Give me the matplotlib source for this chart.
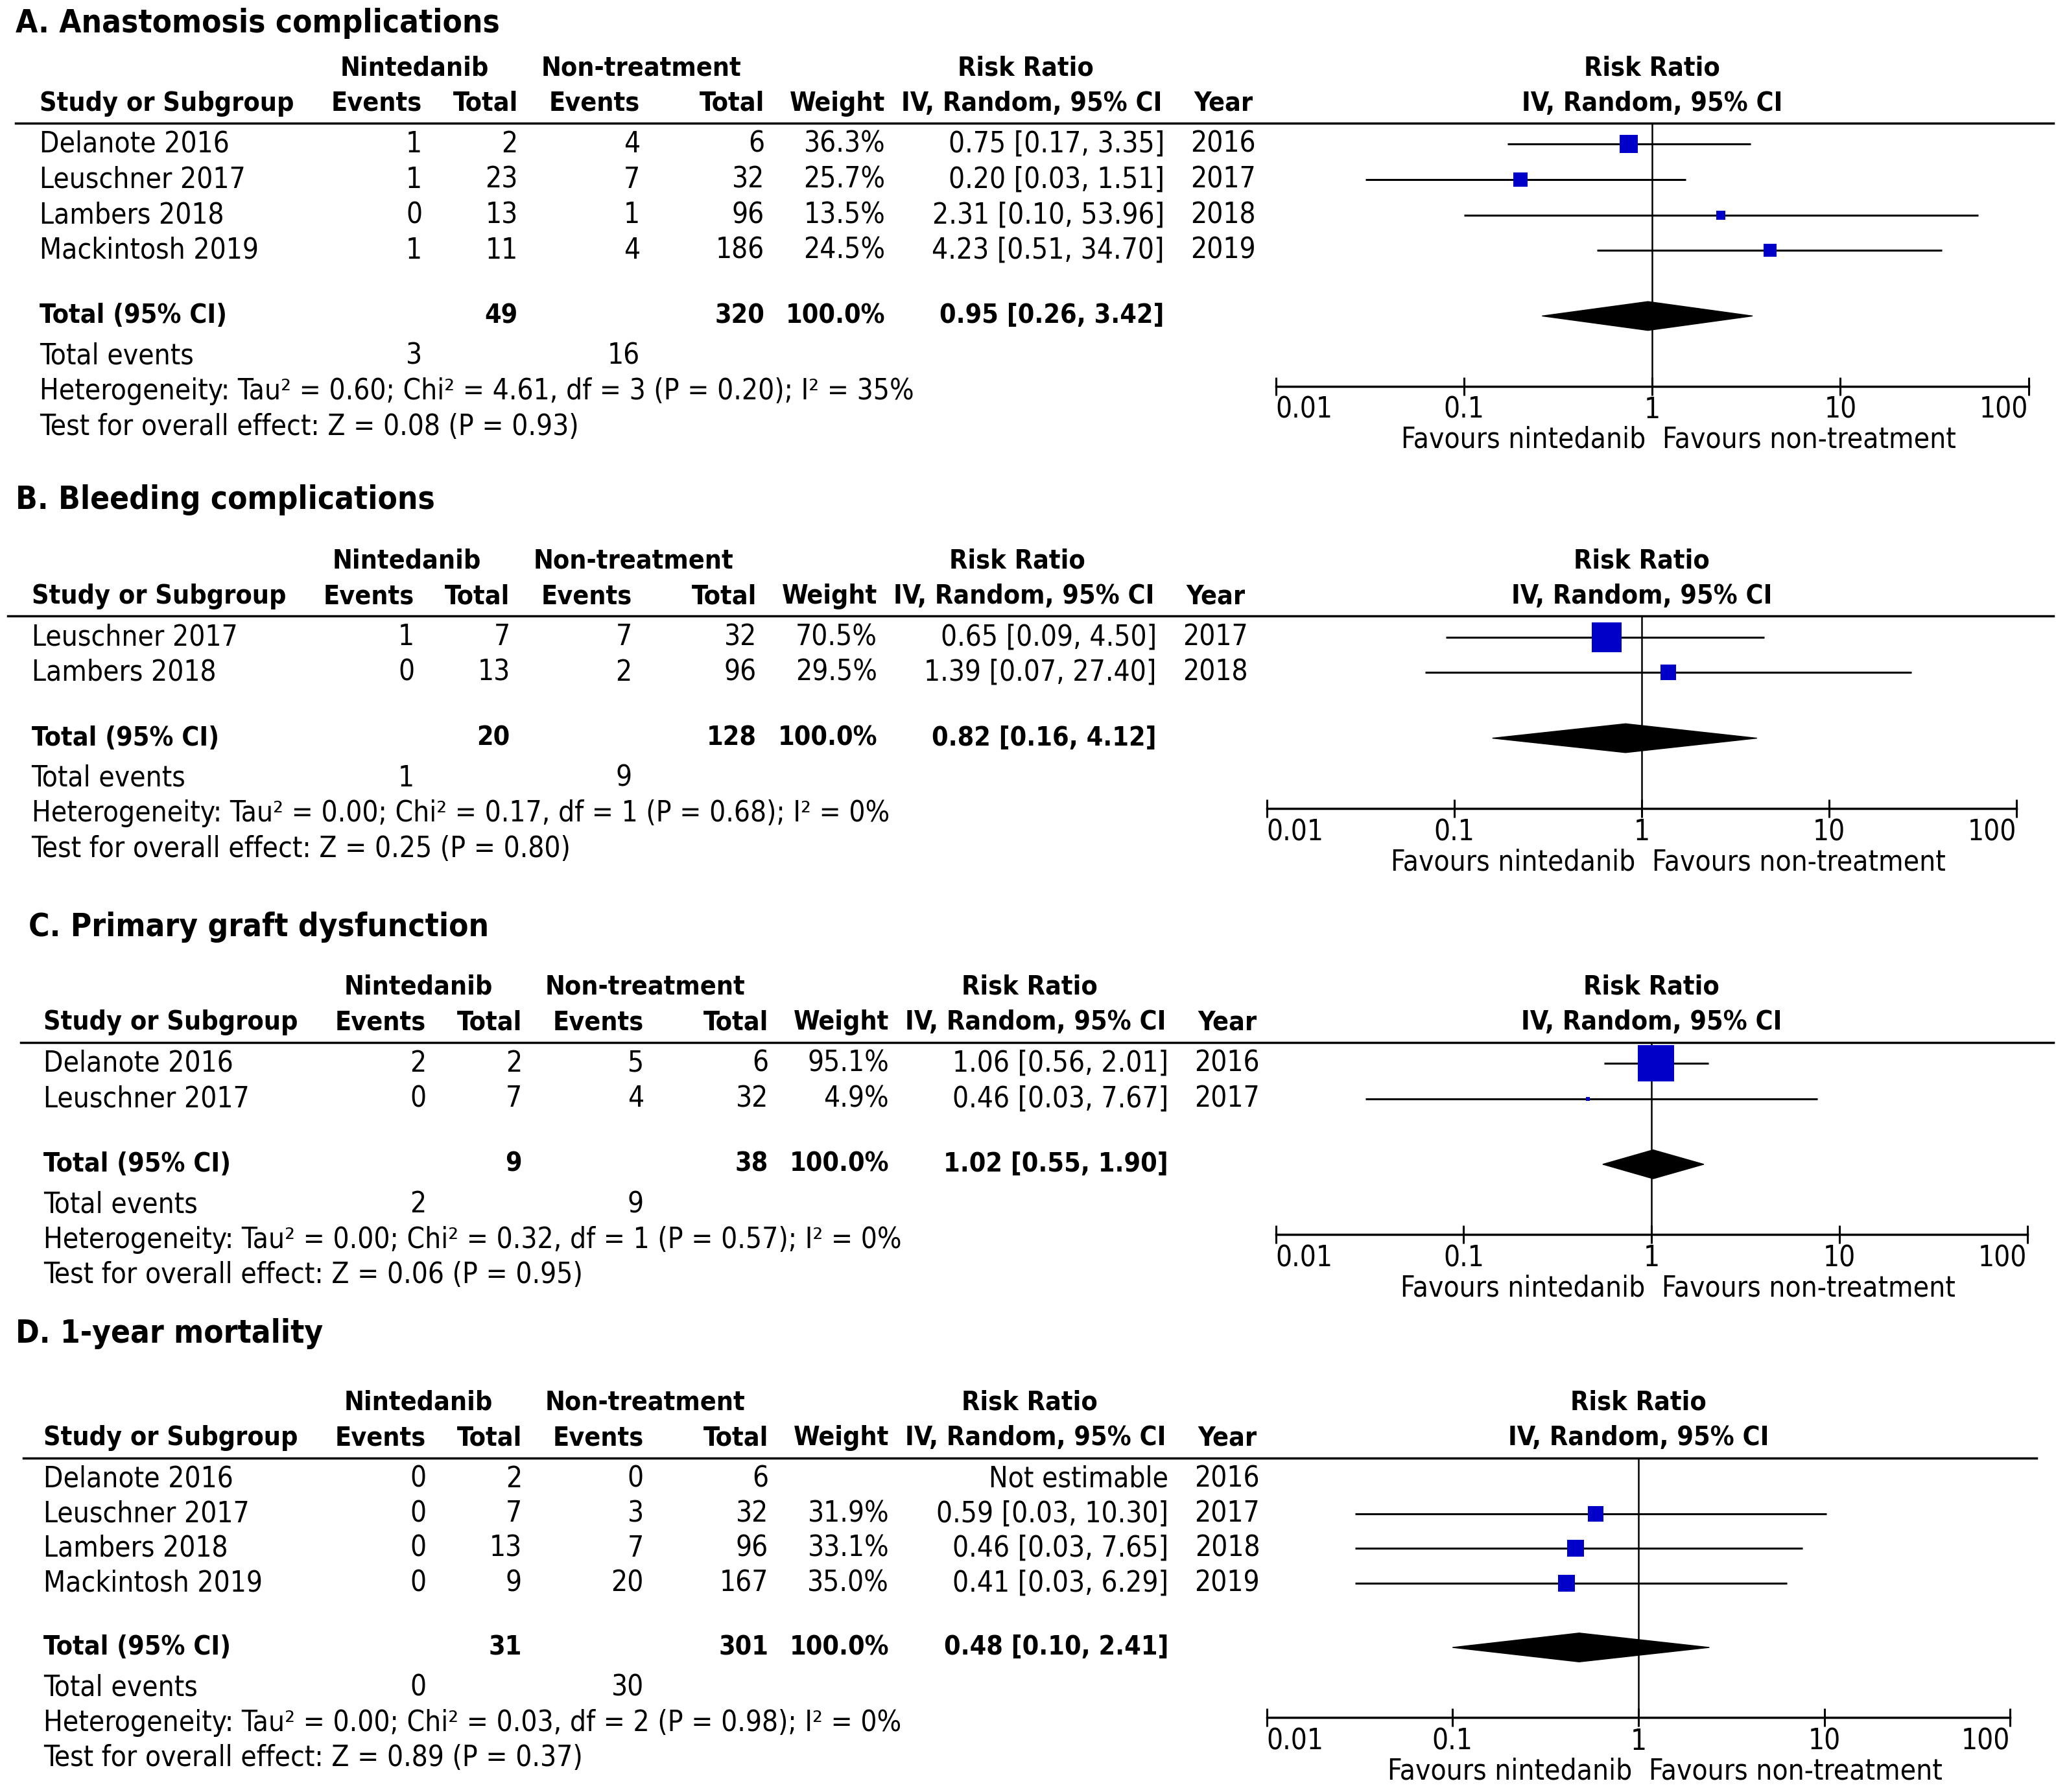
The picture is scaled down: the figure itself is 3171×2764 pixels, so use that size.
import matplotlib
matplotlib.use("Agg")
import matplotlib.pyplot as plt
from matplotlib.lines import Line2D
from matplotlib.patches import Polygon

W, H = 3171, 2764
S = W / 1568  # layout numbers below are in half-size reference units

# ---------------- data ----------------
a_studies = ["Delanote 2016", "Leuschner 2017", "Lambers 2018", "Mackintosh 2019"]
a_ev_n = [1, 1, 0, 1]
a_tot_n = [2, 23, 13, 11]
a_ev_c = [4, 7, 1, 4]
a_tot_c = [6, 32, 96, 186]
a_weight = [36.3, 25.7, 13.5, 24.5]
a_rr = [0.75, 0.20, 2.31, 4.23]
a_lo = [0.17, 0.03, 0.10, 0.51]
a_hi = [3.35, 1.51, 53.96, 34.70]
a_year = [2016, 2017, 2018, 2019]
a_total = [49, 320, 0.95, 0.26, 3.42]
a_events = [3, 16]
a_het = "Heterogeneity: Tau² = 0.60; Chi² = 4.61, df = 3 (P = 0.20); I² = 35%"
a_test = "Test for overall effect: Z = 0.08 (P = 0.93)"

b_studies = ["Leuschner 2017", "Lambers 2018"]
b_ev_n = [1, 0]
b_tot_n = [7, 13]
b_ev_c = [7, 2]
b_tot_c = [32, 96]
b_weight = [70.5, 29.5]
b_rr = [0.65, 1.39]
b_lo = [0.09, 0.07]
b_hi = [4.50, 27.40]
b_year = [2017, 2018]
b_total = [20, 128, 0.82, 0.16, 4.12]
b_events = [1, 9]
b_het = "Heterogeneity: Tau² = 0.00; Chi² = 0.17, df = 1 (P = 0.68); I² = 0%"
b_test = "Test for overall effect: Z = 0.25 (P = 0.80)"

c_studies = ["Delanote 2016", "Leuschner 2017"]
c_ev_n = [2, 0]
c_tot_n = [2, 7]
c_ev_c = [5, 4]
c_tot_c = [6, 32]
c_weight = [95.1, 4.9]
c_rr = [1.06, 0.46]
c_lo = [0.56, 0.03]
c_hi = [2.01, 7.67]
c_year = [2016, 2017]
c_total = [9, 38, 1.02, 0.55, 1.90]
c_events = [2, 9]
c_het = "Heterogeneity: Tau² = 0.00; Chi² = 0.32, df = 1 (P = 0.57); I² = 0%"
c_test = "Test for overall effect: Z = 0.06 (P = 0.95)"

d_studies = ["Delanote 2016", "Leuschner 2017", "Lambers 2018", "Mackintosh 2019"]
d_ev_n = [0, 0, 0, 0]
d_tot_n = [2, 7, 13, 9]
d_ev_c = [0, 3, 7, 20]
d_tot_c = [6, 32, 96, 167]
d_weight = [None, 31.9, 33.1, 35.0]
d_rr = [None, 0.59, 0.46, 0.41]
d_lo = [None, 0.03, 0.03, 0.03]
d_hi = [None, 10.30, 7.65, 6.29]
d_year = [2016, 2017, 2018, 2019]
d_total = [31, 301, 0.48, 0.10, 2.41]
d_events = [0, 30]
d_het = "Heterogeneity: Tau² = 0.00; Chi² = 0.03, df = 2 (P = 0.98); I² = 0%"
d_test = "Test for overall effect: Z = 0.89 (P = 0.37)"

tick_vals = [0.01, 0.1, 1, 10, 100]
tick_labels = ["0.01", "0.1", "1", "10", "100"]

panels = [
    dict(title="A. Anastomosis complications", tx=12, ty=18, dx=0, top=52, step=27, gap=50,
         px0=973, px1=1547, rule=(12, 1566),
         data=(a_studies, a_ev_n, a_tot_n, a_ev_c, a_tot_c, a_weight, a_rr, a_lo, a_hi, a_year,
               a_total, a_events, a_het, a_test)),
    dict(title="B. Bleeding complications", tx=12, ty=381, dx=-6, top=428, step=27, gap=50,
         px0=966, px1=1538, rule=(6, 1566),
         data=(b_studies, b_ev_n, b_tot_n, b_ev_c, b_tot_c, b_weight, b_rr, b_lo, b_hi, b_year,
               b_total, b_events, b_het, b_test)),
    dict(title="C. Primary graft dysfunction", tx=22, ty=707, dx=3, top=753, step=27, gap=50,
         px0=973, px1=1546, rule=(16, 1566),
         data=(c_studies, c_ev_n, c_tot_n, c_ev_c, c_tot_c, c_weight, c_rr, c_lo, c_hi, c_year,
               c_total, c_events, c_het, c_test)),
    dict(title="D. 1-year mortality", tx=12, ty=1017, dx=3, top=1070, step=26.5, gap=49,
         px0=966, px1=1533, rule=(18, 1553),
         data=(d_studies, d_ev_n, d_tot_n, d_ev_c, d_tot_c, d_weight, d_rr, d_lo, d_hi, d_year,
               d_total, d_events, d_het, d_test)),
]

FS = 31.7    # regular table text
BFS = 29.5   # bold table text
TFS = 35.5   # panel titles
FONT = dict(family="DejaVu Sans", stretch="condensed")
BLUE = "#0000C8"


def X(d):
    return d * S / W


def Y(d):
    return 1 - d * S / H


fig = plt.figure(figsize=(W / 100, H / 100), dpi=100)


def txt(x, y, s, ha="left", bold=False, size=None):
    if size is None:
        size = BFS if bold else FS
    fig.text(X(x), Y(y), s, ha=ha, va="center", fontsize=size,
             fontweight="bold" if bold else "normal", **FONT)


for p in panels:
    (studies, ev_n, tot_n, ev_c, tot_c, weight, rr, lo, hi, year,
     total, events, het, test) = p["data"]
    dx = p["dx"]
    h1 = p["top"]
    h2 = h1 + 27
    rule_y = h1 + 42
    rows = [rule_y + 16 + i * p["step"] for i in range(len(studies))]
    tot_y = rows[-1] + p["gap"]
    ev_y = tot_y + 30.5
    het_y = ev_y + 27
    test_y = het_y + 27
    axis_y = het_y - 4
    one_x = p["px0"] + (p["px1"] - p["px0"]) / 2

    # title
    txt(p["tx"], p["ty"], p["title"], bold=True, size=TFS)

    # headers
    txt(316 + dx, h1, "Nintedanib", "center", True)
    txt(489 + dx, h1, "Non-treatment", "center", True)
    txt(782 + dx, h1, "Risk Ratio", "center", True)
    txt(one_x, h1, "Risk Ratio", "center", True)
    txt(30 + dx, h2, "Study or Subgroup", "left", True)
    txt(322 + dx, h2, "Events", "right", True)
    txt(395 + dx, h2, "Total", "right", True)
    txt(488 + dx, h2, "Events", "right", True)
    txt(583 + dx, h2, "Total", "right", True)
    txt(675 + dx, h2, "Weight", "right", True)
    txt(787 + dx, h2, "IV, Random, 95% CI", "center", True)
    txt(933 + dx, h2, "Year", "center", True)
    txt(one_x, h2, "IV, Random, 95% CI", "center", True)
    fig.add_artist(Line2D([X(p["rule"][0]), X(p["rule"][1])], [Y(rule_y), Y(rule_y)],
                          lw=2.5, color="black", transform=fig.transFigure))

    # study rows
    for i, y in enumerate(rows):
        txt(30 + dx, y, studies[i])
        txt(322 + dx, y, str(ev_n[i]), "right")
        txt(395 + dx, y, str(tot_n[i]), "right")
        txt(488 + dx, y, str(ev_c[i]), "right")
        txt(583 + dx, y, str(tot_c[i]), "right")
        if weight[i] is None:
            txt(888 + dx, y, "Not estimable", "right")
        else:
            txt(675 + dx, y, f"{weight[i]:.1f}%", "right")
            txt(888 + dx, y, f"{rr[i]:.2f} [{lo[i]:.2f}, {hi[i]:.2f}]", "right")
        txt(933 + dx, y, str(year[i]), "center")

    # total rows
    txt(30 + dx, tot_y, "Total (95% CI)", "left", True)
    txt(395 + dx, tot_y, str(total[0]), "right", True)
    txt(583 + dx, tot_y, str(total[1]), "right", True)
    txt(675 + dx, tot_y, "100.0%", "right", True)
    txt(888 + dx, tot_y, f"{total[2]:.2f} [{total[3]:.2f}, {total[4]:.2f}]", "right", True)
    txt(30 + dx, ev_y, "Total events")
    txt(322 + dx, ev_y, str(events[0]), "right")
    txt(488 + dx, ev_y, str(events[1]), "right")
    txt(30 + dx, het_y, het)
    txt(30 + dx, test_y, test)

    # forest plot
    ax = fig.add_axes([X(p["px0"]), Y(axis_y), X(p["px1"]) - X(p["px0"]), Y(rule_y) - Y(axis_y)])
    ax.set_xscale("log")
    ax.set_xlim(0.01, 100)
    ax.set_ylim(axis_y, rule_y)
    ax.patch.set_visible(False)
    for side in ("left", "right", "top"):
        ax.spines[side].set_visible(False)
    ax.spines["bottom"].set_linewidth(2.5)
    ax.set_yticks([])
    ax.set_xticks(tick_vals)
    ax.set_xticklabels(tick_labels, fontsize=FS, **FONT)
    ax.minorticks_off()
    ax.tick_params(axis="x", direction="inout", length=20, width=2.2, pad=1)
    labs = ax.get_xticklabels()
    labs[0].set_ha("left")
    labs[-1].set_ha("right")
    ax.axvline(1, color="black", lw=1.8)

    for i, y in enumerate(rows):
        if rr[i] is None:
            continue
        ax.plot([lo[i], hi[i]], [y, y], color="black", lw=2.2, solid_capstyle="butt")
        side = 1.85 * weight[i] ** 0.75 * 0.72
        ax.plot([rr[i]], [y], marker="s", markersize=side, color=BLUE, mew=0, zorder=3)

    dh = 11
    ax.add_patch(Polygon([[total[3], tot_y], [total[2], tot_y - dh], [total[4], tot_y],
                          [total[2], tot_y + dh]], closed=True, color="black", zorder=3))

    fig.text(X(one_x - 5), Y(axis_y + 41), "Favours nintedanib", ha="right", va="center",
             fontsize=FS, **FONT)
    fig.text(X(one_x + 8), Y(axis_y + 41), "Favours non-treatment", ha="left", va="center",
             fontsize=FS, **FONT)

fig.savefig("out.png", dpi=100, facecolor="white")
